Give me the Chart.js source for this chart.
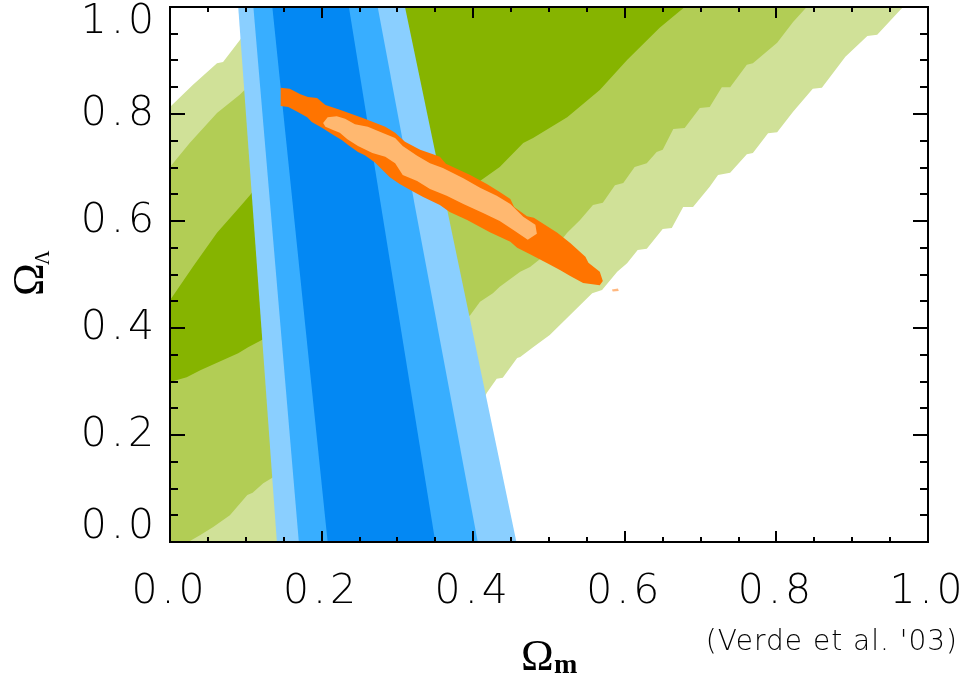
<!DOCTYPE html>
<html>
<head>
<meta charset="utf-8">
<script src="https://cdn.jsdelivr.net/npm/chart.js@4.4.1/dist/chart.umd.min.js"></script>
<style>
  html, body { margin: 0; padding: 0; background: #fff; }
  canvas { display: block; }
</style>
</head>
<body>
<canvas id="chart" width="964" height="677" style="width:964px;height:677px"></canvas>
<script>
// axis ticks (Omega_m on x, Omega_Lambda on y)
const xTicks = [0, 0.2, 0.4, 0.6, 0.8, 1.0];
const yTicks = [0, 0.2, 0.4, 0.6, 0.8, 1.0];
const minorTicks = [0.05, 0.1, 0.15, 0.2, 0.25, 0.3, 0.35, 0.4, 0.45, 0.5,
  0.55, 0.6, 0.65, 0.7, 0.75, 0.8, 0.85, 0.9, 0.95];

// green contours (outer, middle, inner), [Omega_m, Omega_Lambda]
const greenOuter = [
  [-0.05, -0.05], [-0.05, 0.745], [0, 0.813], [0.030, 0.854], [0.062, 0.895],
  [0.070, 0.897], [0.092, 0.938], [0.121, 1.0], [0.144, 1.05], [1.0, 1.05],
  [0.967, 1.0], [0.933, 0.948], [0.920, 0.946], [0.891, 0.907], [0.860, 0.849],
  [0.848, 0.847], [0.822, 0.804], [0.801, 0.766], [0.789, 0.764], [0.769, 0.727],
  [0.761, 0.725], [0.739, 0.690], [0.723, 0.686], [0.712, 0.664], [0.690, 0.626],
  [0.677, 0.626], [0.662, 0.587], [0.650, 0.585], [0.629, 0.548], [0.617, 0.546],
  [0.603, 0.521], [0.590, 0.505], [0.570, 0.471], [0.557, 0.465], [0.501, 0.387],
  [0.479, 0.364], [0.462, 0.346], [0.458, 0.344], [0.439, 0.307], [0.431, 0.305],
  [0.418, 0.279], [0.30, -0.05]
];
const greenMid = [
  [-0.05, -0.05], [-0.05, 0.615], [0, 0.701], [0.026, 0.746], [0.062, 0.802],
  [0.092, 0.836], [0.211, 1.0], [0.247, 1.05], [0.872, 1.05], [0.840, 1.0],
  [0.822, 0.972], [0.801, 0.933], [0.769, 0.895], [0.761, 0.892], [0.739, 0.850],
  [0.728, 0.850], [0.712, 0.813], [0.699, 0.811], [0.679, 0.774], [0.664, 0.772],
  [0.650, 0.733], [0.642, 0.729], [0.629, 0.708], [0.613, 0.701], [0.598, 0.671],
  [0.587, 0.667], [0.571, 0.634], [0.558, 0.630], [0.541, 0.602], [0.524, 0.578],
  [0.511, 0.555], [0.492, 0.533], [0.475, 0.514], [0.462, 0.505], [0.435, 0.477],
  [0.426, 0.465], [0.409, 0.449], [0.396, 0.424], [0.135, 0.120], [0.123, 0.110],
  [0.109, 0.092], [0.102, 0.088], [0.079, 0.050], [0.057, 0.028], [0.040, 0.013],
  [0.024, 0.0], [0.015, -0.05]
];
const greenInner = [
  [-0.05, 0.28], [-0.05, 0.35], [0, 0.452], [0.030, 0.514], [0.062, 0.578],
  [0.092, 0.626], [0.106, 0.649], [0.289, 1.0], [0.315, 1.05], [0.721, 1.05],
  [0.679, 1.0], [0.646, 0.961], [0.603, 0.901], [0.567, 0.845], [0.524, 0.794],
  [0.479, 0.755], [0.466, 0.746], [0.435, 0.701], [0.409, 0.675], [0.123, 0.379],
  [0.103, 0.364], [0.090, 0.353], [0.062, 0.335], [0.040, 0.321], [0.022, 0.308],
  [0, 0.299]
];

// blue contours
const blueOuter = [[0.090, 1], [0.310, 1], [0.457, 0], [0.141, 0]];
const blueMid = [[0.110, 1], [0.274, 1], [0.406, 0], [0.170, 0]];
const blueInner = [[0.135, 1], [0.236, 1], [0.350, 0], [0.208, 0]];

// orange contours (combined)
const orangeOuter = [
  [0.146, 0.849], [0.158, 0.847], [0.172, 0.837], [0.182, 0.832], [0.194, 0.830],
  [0.205, 0.817], [0.224, 0.808], [0.257, 0.791], [0.284, 0.776], [0.297, 0.765],
  [0.310, 0.748], [0.330, 0.733], [0.347, 0.725], [0.356, 0.720], [0.364, 0.707],
  [0.396, 0.686], [0.418, 0.669], [0.435, 0.654], [0.449, 0.641], [0.454, 0.626],
  [0.471, 0.609], [0.480, 0.606], [0.511, 0.578], [0.528, 0.559], [0.548, 0.533],
  [0.552, 0.522], [0.567, 0.505], [0.571, 0.488], [0.567, 0.480], [0.545, 0.484],
  [0.528, 0.497], [0.515, 0.508], [0.499, 0.520], [0.475, 0.538], [0.458, 0.550],
  [0.449, 0.561], [0.422, 0.579], [0.392, 0.602], [0.369, 0.617], [0.356, 0.630],
  [0.334, 0.645], [0.317, 0.658], [0.303, 0.669], [0.290, 0.682], [0.270, 0.710],
  [0.257, 0.723], [0.248, 0.729], [0.235, 0.742], [0.227, 0.751], [0.215, 0.761],
  [0.201, 0.774], [0.187, 0.785], [0.181, 0.794], [0.168, 0.804], [0.156, 0.813],
  [0.146, 0.815]
];
const orangeInner = [
  [0.202, 0.783], [0.208, 0.794], [0.220, 0.796], [0.231, 0.791], [0.244, 0.781],
  [0.261, 0.776], [0.280, 0.765], [0.297, 0.755], [0.307, 0.740], [0.326, 0.722],
  [0.343, 0.708], [0.360, 0.699], [0.387, 0.680], [0.409, 0.662], [0.431, 0.647],
  [0.449, 0.632], [0.466, 0.608], [0.482, 0.593], [0.484, 0.576], [0.472, 0.565],
  [0.453, 0.583], [0.435, 0.600], [0.413, 0.615], [0.387, 0.632], [0.365, 0.647],
  [0.343, 0.660], [0.326, 0.675], [0.307, 0.686], [0.297, 0.708], [0.284, 0.720],
  [0.267, 0.727], [0.248, 0.740], [0.234, 0.753], [0.224, 0.765], [0.215, 0.770],
  [0.205, 0.776]
];
const orangeSpeck = [[0.583, 0.472], [0.591, 0.474], [0.592, 0.469], [0.584, 0.468]];

// bottom layer first
const layers = [
  { pts: greenOuter, color: "#d0e198" },
  { pts: greenMid, color: "#b2cd55" },
  { pts: greenInner, color: "#86b400" },
  { pts: blueOuter, color: "#8acfff" },
  { pts: blueMid, color: "#38aeff" },
  { pts: blueInner, color: "#0388f3" },
  { pts: orangeOuter, color: "#ff7400" },
  { pts: orangeInner, color: "#ffb870" },
  { pts: orangeSpeck, color: "#ffb880" },
];

const tickFont = { family: "DejaVu Sans", size: 41, weight: "200" };

const axisFrame = {
  id: "axisFrame",
  beforeDraw(chart) {
    // the original lettering is widely spaced
    chart.ctx.letterSpacing = "4px";
  },
  afterDraw(chart) {
    const { ctx, chartArea: a, scales } = chart;
    const x = scales.x;
    const y = scales.y;
    ctx.save();
    ctx.strokeStyle = "#000";
    ctx.lineWidth = 2;
    ctx.beginPath();
    minorTicks.forEach((v) => {
      const major = xTicks.some((t) => Math.abs(t - v) < 1e-6);
      const px = Math.round(x.getPixelForValue(v));
      const lx = major ? 11 : 5;
      ctx.moveTo(px, a.bottom);
      ctx.lineTo(px, a.bottom - lx);
      ctx.moveTo(px, a.top);
      ctx.lineTo(px, a.top + lx);
      const py = Math.round(y.getPixelForValue(v));
      const ly = major ? 15 : 8;
      ctx.moveTo(a.left, py);
      ctx.lineTo(a.left + ly, py);
      ctx.moveTo(a.right, py);
      ctx.lineTo(a.right - ly, py);
    });
    ctx.stroke();
    ctx.strokeRect(a.left, a.top, a.right - a.left, a.bottom - a.top);

    // axis titles
    ctx.letterSpacing = "0px";
    ctx.fillStyle = "#000";
    ctx.textBaseline = "alphabetic";
    ctx.textAlign = "left";
    ctx.font = "44px 'Liberation Serif'";
    ctx.fillText("Ω", 521, 670);
    ctx.font = "bold 28px 'Liberation Serif'";
    ctx.fillText("m", 554, 673);

    ctx.save();
    ctx.translate(43, 296);
    ctx.rotate(-Math.PI / 2);
    ctx.font = "44px 'Liberation Serif'";
    ctx.fillText("Ω", 0, 0);
    ctx.font = "20px 'Liberation Serif'";
    ctx.fillText("Λ", 31, 6);
    ctx.restore();

    ctx.letterSpacing = "1px";
    ctx.font = "200 28px 'DejaVu Sans'";
    ctx.textAlign = "right";
    ctx.fillText("(Verde et al. '03)", 958, 650);
    ctx.restore();
  },
};

new Chart(document.getElementById("chart"), {
  type: "scatter",
  data: {
    datasets: layers.map((layer, i) => ({
      data: layer.pts.map((p) => ({ x: p[0], y: p[1] })),
      showLine: true,
      fill: "shape",
      backgroundColor: layer.color,
      borderColor: "rgba(0,0,0,0)",
      borderWidth: 0,
      pointRadius: 0,
      tension: 0,
      order: layers.length - i,
    })),
  },
  options: {
    responsive: false,
    animation: false,
    events: [],
    layout: { padding: { left: 0, top: 7, right: 36, bottom: 0 } },
    scales: {
      x: {
        type: "linear",
        min: 0,
        max: 1,
        afterBuildTicks: (s) => { s.ticks = xTicks.map((v) => ({ value: v })); },
        afterFit: (s) => { s.height = 135; s.paddingLeft = 0; s.paddingRight = 0; },
        grid: { display: false, drawTicks: false },
        border: { display: false },
        ticks: {
          callback: (v) => v.toFixed(1),
          font: tickFont,
          color: "#000",
          padding: 26,
          maxRotation: 0,
          autoSkip: false,
        },
      },
      y: {
        type: "linear",
        min: 0,
        max: 1,
        afterBuildTicks: (s) => { s.ticks = yTicks.map((v) => ({ value: v })); },
        afterFit: (s) => { s.width = 170; s.paddingTop = 0; s.paddingBottom = 0; },
        grid: { display: false, drawTicks: false },
        border: { display: false },
        ticks: {
          // end labels are nudged inside the frame, as in the original
          callback: (v) => (v === 1 ? ["", "1.0"] : v === 0 ? ["0.0", ""] : v.toFixed(1)),
          font: { ...tickFont, lineHeight: "30px" },
          color: "#000",
          padding: 12,
          autoSkip: false,
        },
      },
    },
    plugins: {
      legend: { display: false },
      tooltip: { enabled: false },
    },
  },
  plugins: [axisFrame],
});
</script>
</body>
</html>
